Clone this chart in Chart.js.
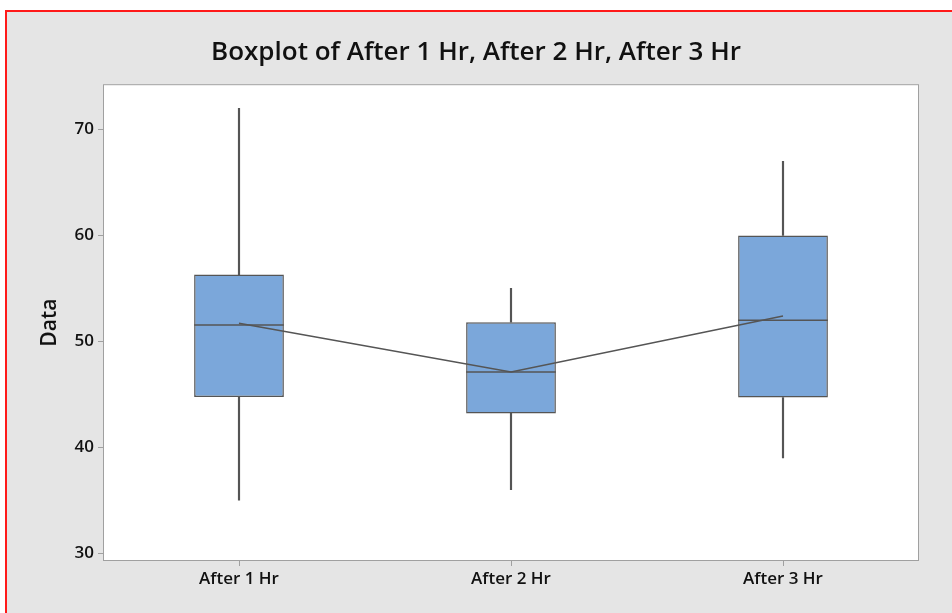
<!DOCTYPE html>
<html>
<head>
<meta charset="utf-8">
<script src="https://cdn.jsdelivr.net/npm/chart.js@4.4.1/dist/chart.umd.min.js"></script>
<style>
    html, body { margin: 0; padding: 0; background: #fff; overflow: hidden; }
    #frame {
        position: absolute; left: 5px; top: 10px; width: 960px; height: 620px;
        background: #e5e5e5; border: 2px solid #ff1a1a; box-sizing: border-box;
    }
    #wrap { position: absolute; left: 0; top: 0; width: 952px; height: 613px; }
</style>
</head>
<body>
<div id="frame"></div>
<div id="wrap"><canvas id="chart"></canvas></div>
<script>
    // Boxplot summary values
    const categories = ['After 1 Hr', 'After 2 Hr', 'After 3 Hr'];
    const whiskerLow = [35, 36, 39];
    const q1 = [44.75, 43.2, 44.7];
    const medians = [51.55, 47.1, 52.0];
    const q3 = [56.3, 51.8, 60.0];
    const whiskerHigh = [72, 55, 67];
    const means = [51.7, 47.1, 52.4];
    const yTicks = [30, 40, 50, 60, 70];

    const LINE = '#555555';
    const BOX = '#7ba7da';
    const FONT = "'Open Sans', 'Noto Sans', sans-serif";

    // White plot area with a thin grey frame
    const plotFrame = {
        id: 'plotFrame',
        beforeDatasetsDraw(chart) {
            const a = chart.chartArea;
            const ctx = chart.ctx;
            ctx.save();
            ctx.fillStyle = '#ffffff';
            ctx.fillRect(a.left, a.top, a.right - a.left, a.bottom - a.top);
            ctx.restore();
        },
        afterDatasetsDraw(chart) {
            const a = chart.chartArea;
            const ctx = chart.ctx;
            ctx.save();
            ctx.strokeStyle = '#a0a0a0';
            ctx.lineWidth = 1;
            ctx.strokeRect(a.left + 0.5, a.top + 0.5, a.right - a.left - 1, a.bottom - a.top - 1);
            ctx.restore();
        }
    };

    // Median line across each box, placed with the chart's own scales
    const medianLines = {
        id: 'medianLines',
        afterDatasetsDraw(chart) {
            const meta = chart.getDatasetMeta(2);
            const y = chart.scales.y;
            const ctx = chart.ctx;
            ctx.save();
            ctx.strokeStyle = LINE;
            ctx.lineWidth = 1.5;
            meta.data.forEach((bar, i) => {
                const py = y.getPixelForValue(medians[i]);
                ctx.beginPath();
                ctx.moveTo(bar.x - bar.width / 2, py);
                ctx.lineTo(bar.x + bar.width / 2, py);
                ctx.stroke();
            });
            ctx.restore();
        }
    };

    const ctx = document.getElementById('chart').getContext('2d');
    new Chart(ctx, {
        type: 'bar',
        data: {
            labels: categories,
            datasets: [
                {
                    type: 'line',
                    label: 'Mean',
                    data: means,
                    borderColor: LINE,
                    borderWidth: 1.5,
                    pointRadius: 0,
                    tension: 0,
                    order: 0
                },
                {
                    label: 'Upper whisker',
                    data: categories.map((c, i) => [q3[i], whiskerHigh[i]]),
                    backgroundColor: LINE,
                    barThickness: 1.5,
                    grouped: false,
                    order: 2
                },
                {
                    label: 'Box',
                    data: categories.map((c, i) => [q1[i], q3[i]]),
                    backgroundColor: BOX,
                    borderColor: LINE,
                    borderWidth: 1.5,
                    borderSkipped: false,
                    barPercentage: 0.33,
                    categoryPercentage: 1,
                    grouped: false,
                    order: 1
                },
                {
                    label: 'Lower whisker',
                    data: categories.map((c, i) => [whiskerLow[i], q1[i]]),
                    backgroundColor: LINE,
                    barThickness: 1.5,
                    grouped: false,
                    order: 2
                }
            ]
        },
        options: {
            responsive: true,
            maintainAspectRatio: false,
            animation: false,
            layout: { padding: 0 },
            plugins: {
                legend: { display: false },
                tooltip: { enabled: false },
                title: {
                    display: true,
                    text: 'Boxplot of After 1 Hr, After 2 Hr, After 3 Hr',
                    color: '#111',
                    font: { family: FONT, size: 26, weight: '600', lineHeight: 1.2 },
                    padding: { top: 37, bottom: 16 }
                }
            },
            scales: {
                x: {
                    offset: true,
                    grid: { drawOnChartArea: false, drawTicks: true, tickLength: 5, color: '#a0a0a0', offset: false },
                    border: { display: false },
                    ticks: {
                        color: '#111',
                        padding: 3,
                        font: { family: FONT, size: 17, weight: '600' }
                    },
                    afterFit(scale) { scale.height = 52; }
                },
                y: {
                    min: 29.27,
                    max: 74.27,
                    afterBuildTicks(scale) {
                        scale.ticks = yTicks.map(v => ({ value: v }));
                    },
                    grid: { drawOnChartArea: false, drawTicks: true, tickLength: 5, color: '#a0a0a0' },
                    border: { display: false },
                    ticks: {
                        color: '#111',
                        padding: 4,
                        font: { family: FONT, size: 17, weight: '600' }
                    },
                    title: {
                        display: true,
                        text: 'Data',
                        color: '#111',
                        font: { family: FONT, size: 21, weight: '600', lineHeight: 1.2 },
                        padding: { top: 37, bottom: 0 }
                    },
                    afterFit(scale) { scale.width = 103; }
                },
                // empty right-hand margin so the title centres on the whole page
                yRight: {
                    position: 'right',
                    grid: { display: false },
                    border: { display: false },
                    ticks: { display: false },
                    afterFit(scale) { scale.width = 33; }
                }
            }
        },
        plugins: [plotFrame, medianLines]
    });
</script>
</body>
</html>
